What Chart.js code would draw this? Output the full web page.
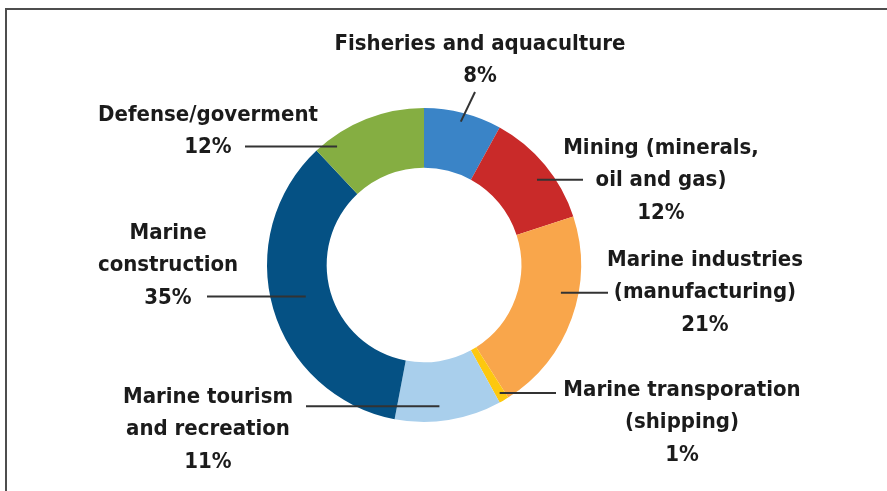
<!DOCTYPE html>
<html>
<head>
<meta charset="utf-8">
<script src="https://cdn.jsdelivr.net/npm/chart.js@4"></script>
<style>
    html, body { margin: 0; padding: 0; background: #fff; overflow: hidden; }
    #frame {
        position: absolute;
        left: 5px; top: 8px;
        width: 880px; height: 481px;
        border-top: 2px solid #4d4d4d;
        border-left: 2px solid #4d4d4d;
    }
    #wrap { position: absolute; left: 0; top: 0; width: 887px; height: 491px; }
</style>
</head>
<body>
<div id="frame"></div>
<div id="wrap"><canvas id="sectorChart" width="887" height="491"></canvas></div>
<script>
// 海洋経済の部門別シェア (%)
const categories = [
    ['Fisheries and aquaculture'],
    ['Mining (minerals,', 'oil and gas)'],
    ['Marine industries', '(manufacturing)'],
    ['Marine transporation', '(shipping)'],
    ['Marine tourism', 'and recreation'],
    ['Marine', 'construction'],
    ['Defense/goverment']
];
const shares = [8, 12, 21, 1, 11, 35, 12];
const sliceColors = ['#3a84c7', '#c92a29', '#f9a64b', '#fdc80f', '#a9cfec', '#055184', '#85ae42'];

// ラベル配置: テキスト中心 x, 1行目の y, 引出線の端 (テキスト側) と扇形上の位置 (角度比, 半径比)
const labelLayout = [
    { x: 480, y: 44,  lineX: 475, lineY: 92, at: 0.5,  depth: 0.85 },
    { x: 661, y: 148, lineX: 583, at: 0.56, depth: 0.74 },
    { x: 705, y: 260, lineX: 608, at: 0.39, depth: 0.71 },
    { x: 682, y: 390, lineX: 556, at: 0.5,  depth: 0.86 },
    { x: 208, y: 397, lineX: 306, at: 0.57, depth: 0.75 },
    { x: 168, y: 233, lineX: 207, at: 0.51, depth: 0.42 },
    { x: 208, y: 115, lineX: 245, at: 0.16, depth: 0.83 }
];
const lineGap = 32.5;
const labelFont = 'bold 22px "DejaVu Sans Condensed", "Liberation Sans Narrow", sans-serif';

const calloutPlugin = {
    id: 'callouts',
    afterDraw(chart) {
        const ctx = chart.ctx;
        const arcs = chart.getDatasetMeta(0).data;
        ctx.save();
        arcs.forEach((arc, i) => {
            const p = arc.getProps(['x', 'y', 'startAngle', 'endAngle', 'innerRadius', 'outerRadius'], true);
            const lay = labelLayout[i];
            const ang = p.startAngle + lay.at * (p.endAngle - p.startAngle);
            const r = p.innerRadius + lay.depth * (p.outerRadius - p.innerRadius);
            const px = p.x + r * Math.cos(ang);
            const py = p.y + r * Math.sin(ang);

            ctx.strokeStyle = '#333';
            ctx.lineWidth = 2;
            ctx.beginPath();
            ctx.moveTo(lay.lineX, lay.lineY !== undefined ? lay.lineY : py);
            ctx.lineTo(px, py);
            ctx.stroke();

            const lines = categories[i].concat([shares[i] + '%']);
            ctx.fillStyle = '#1b1b1b';
            ctx.font = labelFont;
            ctx.textAlign = 'center';
            ctx.textBaseline = 'middle';
            lines.forEach((t, k) => ctx.fillText(t, lay.x, lay.y + k * lineGap));
        });
        ctx.restore();
    }
};

new Chart(document.getElementById('sectorChart').getContext('2d'), {
    type: 'doughnut',
    data: {
        labels: categories.map(c => c.join(' ')),
        datasets: [{
            data: shares,
            backgroundColor: sliceColors,
            borderWidth: 0
        }]
    },
    options: {
        responsive: false,
        animation: false,
        cutout: '62%',
        layout: { padding: { left: 267, right: 306, top: 108, bottom: 69 } },
        plugins: {
            legend: { display: false },
            tooltip: { enabled: false }
        }
    },
    plugins: [calloutPlugin]
});
</script>
</body>
</html>
